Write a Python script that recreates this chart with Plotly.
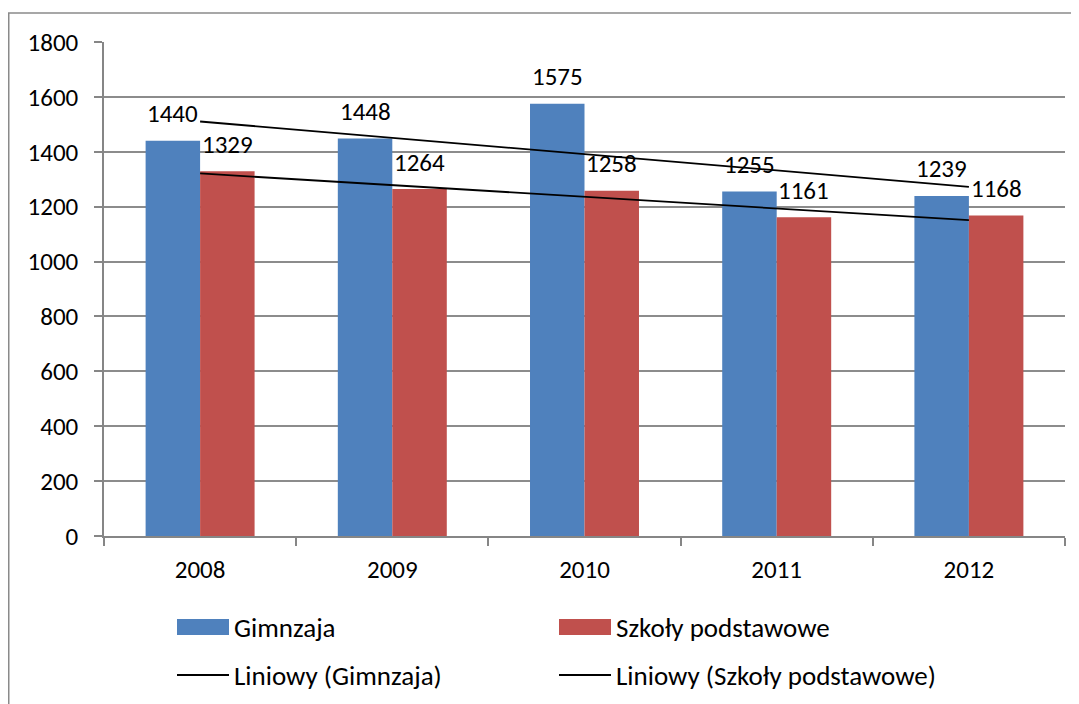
import numpy as np
import plotly.graph_objects as go

years = ["2008", "2009", "2010", "2011", "2012"]
gimnazja = [1440, 1448, 1575, 1255, 1239]
szkoly = [1329, 1264, 1258, 1161, 1168]
names = ["Gimnzaja", "Szkoły podstawowe"]
trend_names = ["Liniowy (Gimnzaja)", "Liniowy (Szkoły podstawowe)"]
colors = ["#4F81BD", "#C0504D"]

FONT = "Carlito, Calibri, Liberation Sans, Arial, sans-serif"
FS = 25
# page has an 8px body margin, so the figure is 8px smaller than the window
W, H = 1071, 696
L, R, T, B = 96, 14, 34, 168
PW, PH = W - L - R, H - T - B
OFF = 8


def px(x):  # page pixel -> paper
    return (x - OFF - L) / PW


def py(y):
    return (H - B - (y - OFF)) / PH


fig = go.Figure()
for name, vals, col in zip(names, [gimnazja, szkoly], colors):
    fig.add_trace(go.Bar(x=years, y=vals, name=name, marker=dict(color=col, line=dict(width=0)),
                         showlegend=False, hoverinfo="x+y"))

# linear trend lines (least squares, as Excel does)
idx = np.arange(1, len(years) + 1)
for vals in [gimnazja, szkoly]:
    k, b = np.polyfit(idx, vals, 1)
    fig.add_trace(go.Scatter(x=[years[0], years[-1]], y=[float(k * idx[0] + b), float(k * idx[-1] + b)],
                             mode="lines", line=dict(color="black", width=1.8),
                             showlegend=False, hoverinfo="skip"))

annotations = []
shift = PW / len(years) * (1 - 0.433) / 4
for vals, xs in [(gimnazja, -shift), (szkoly, shift)]:
    for i, v in enumerate(vals):
        annotations.append(dict(x=i, y=v, xref="x", yref="y", text=str(v), showarrow=False,
                                xshift=xs, yshift=27, yanchor="middle",
                                font=dict(family=FONT, size=FS, color="black")))

shapes = []
# outer chart border
shapes.append(dict(type="rect", xref="paper", yref="paper", x0=px(8.75), x1=px(1100), y0=py(730), y1=py(13),
                   line=dict(color="#8a8a8a", width=1.5), layer="below"))
# custom legend
leg = [(177, 627, "bar", colors[0], names[0]), (559, 627, "bar", colors[1], names[1]),
       (177, 675, "line", "black", trend_names[0]), (559, 675, "line", "black", trend_names[1])]
for x0, yc, kind, col, label in leg:
    if kind == "bar":
        shapes.append(dict(type="rect", xref="paper", yref="paper", x0=px(x0), x1=px(x0 + 52),
                           y0=py(yc + 8), y1=py(yc - 8), fillcolor=col, line=dict(width=0)))
    else:
        shapes.append(dict(type="line", xref="paper", yref="paper", x0=px(x0), x1=px(x0 + 52),
                           y0=py(yc), y1=py(yc), line=dict(color=col, width=1.8)))
    annotations.append(dict(x=px(x0 + 55), y=py(yc), xref="paper", yref="paper", text=label,
                            showarrow=False, xanchor="left", yanchor="middle",
                            font=dict(family=FONT, size=27, color="black")))

fig.update_layout(
    width=W, height=H,
    margin=dict(l=L, r=R, t=T, b=B),
    paper_bgcolor="white", plot_bgcolor="white",
    barmode="group", bargap=0.433, bargroupgap=0,
    font=dict(family=FONT, size=FS, color="black"),
    annotations=annotations, shapes=shapes,
    showlegend=False,
)
fig.update_xaxes(type="category", range=[-0.5, 4.5], showline=True, linecolor="#868686", linewidth=1.5,
                 ticks="outside", tickson="boundaries", ticklen=8, tickcolor="#868686", tickwidth=1.5,
                 ticklabelstandoff=10, showgrid=False, tickangle=0,
                 tickfont=dict(family=FONT, size=FS, color="black"))
fig.update_yaxes(range=[0, 1800], dtick=200, showline=True, linecolor="#868686", linewidth=1.5,
                 ticks="outside", ticklen=8, tickcolor="#868686", tickwidth=1.5,
                 showgrid=True, gridcolor="#8c8c8c", gridwidth=1.5, zeroline=False,
                 ticklabelstandoff=11, tickfont=dict(family=FONT, size=FS, color="black"))

fig.write_html("out.html")
